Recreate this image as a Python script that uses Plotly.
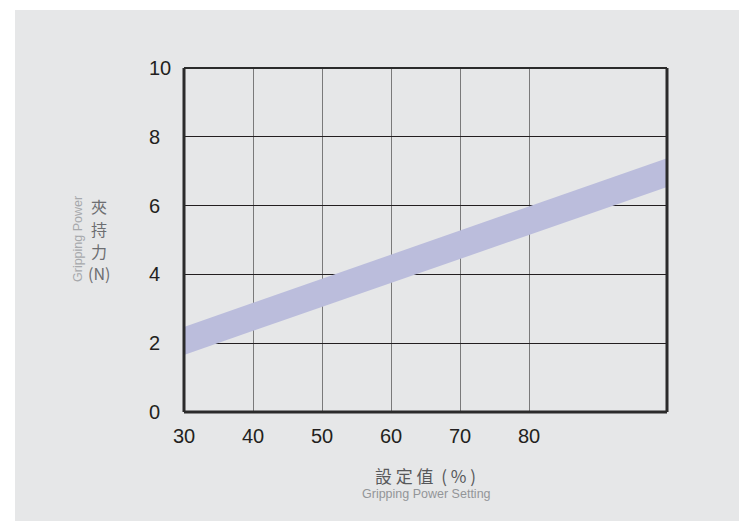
import plotly.graph_objects as go

# Data
band_x = [30, 100]
band_lower = [1.66, 6.54]
band_upper = [2.47, 7.38]
x_ticks = [30, 40, 50, 60, 70, 80]
y_ticks = [0, 2, 4, 6, 8, 10]

OFF = 8  # default body margin of the html page
W, H = 747 - OFF, 521 - OFF
L, R, T, B = 184 - OFF, 667 - OFF, 68 - OFF, 412 - OFF

def px(x):
    return (x - OFF - L) / (R - L)

def py(y):
    return (B - (y - OFF)) / (B - T)

BAND = "#bbbddc"
fig = go.Figure()
fig.add_trace(go.Scatter(x=band_x, y=band_lower, mode="lines",
                         line=dict(width=0, color=BAND), showlegend=False, hoverinfo="skip"))
fig.add_trace(go.Scatter(x=band_x, y=band_upper, mode="lines", fill="tonexty",
                         fillcolor=BAND,
                         line=dict(width=0, color=BAND), showlegend=False, hoverinfo="skip"))

fig.update_layout(
    width=W, height=H,
    margin=dict(l=L, r=W - R, t=T, b=H - B, pad=0),
    paper_bgcolor="white",
    plot_bgcolor="#e6e7e8",
    font=dict(family="Liberation Sans, Arial, sans-serif", color="#231f20"),
    showlegend=False,
    xaxis=dict(range=[30, 100], tickvals=x_ticks, ticktext=[str(v) for v in x_ticks],
               showgrid=True, gridcolor="#7a7a7a", gridwidth=1,
               zeroline=False, showline=False, ticks="",
               tickfont=dict(size=20, color="#231f20"), ticklabelstandoff=10),
    yaxis=dict(range=[0, 10], tickvals=y_ticks, showticklabels=False,
               showgrid=True, gridcolor="#231f20", gridwidth=1,
               zeroline=False, showline=False, ticks=""),
)

shapes = [
    dict(type="rect", xref="paper", yref="paper", x0=px(15), x1=px(760), y0=py(530), y1=py(10),
         fillcolor="#e6e7e8", line=dict(width=0), layer="below"),
    dict(type="line", xref="paper", yref="paper", x0=0, x1=0, y0=0, y1=1,
         line=dict(color="#2b2b2b", width=3), layer="above"),
    dict(type="line", xref="paper", yref="paper", x0=0, x1=1, y0=0, y1=0,
         line=dict(color="#2b2b2b", width=3), layer="above"),
    dict(type="line", xref="paper", yref="paper", x0=1, x1=1, y0=0, y1=1,
         line=dict(color="#2b2b2b", width=3), layer="above"),
    dict(type="line", xref="paper", yref="paper", x0=0, x1=1, y0=1, y1=1,
         line=dict(color="#2b2b2b", width=2), layer="above"),
]
fig.update_layout(shapes=shapes)

sans = "Liberation Sans, Arial, sans-serif"
cjk = "Noto Sans CJK TC, Liberation Sans, sans-serif"
annotations = []
# y tick labels, left-aligned as in the reference
for v in y_ticks:
    annotations.append(dict(text=str(v), x=px(147), y=v, xref="paper", yref="y",
                            showarrow=False, xanchor="left", yanchor="middle",
                            font=dict(family=sans, size=20, color="#231f20")))
for ch, yy in [("夾", 206), ("持", 229), ("力", 251), ("(N)", 273)]:
    annotations.append(dict(text=ch, x=px(99), y=py(yy), xref="paper", yref="paper",
                            showarrow=False, xanchor="center", yanchor="middle",
                            font=dict(family=cjk, size=16, color="#6d6e71")))
annotations += [
    dict(text="Gripping Power", x=px(77.5), y=py(239.5), xref="paper", yref="paper",
         showarrow=False, textangle=-90, xanchor="center", yanchor="middle",
         font=dict(family=sans, size=12.5, color="#a7a9ac")),
    dict(text="設 定 值  ( % )", x=px(425), y=py(475), xref="paper", yref="paper",
         showarrow=False, xanchor="center", yanchor="middle",
         font=dict(family=cjk, size=17, color="#58595b")),
    dict(text="Gripping Power Setting", x=px(426), y=py(494), xref="paper", yref="paper",
         showarrow=False, xanchor="center", yanchor="middle",
         font=dict(family=sans, size=12.5, color="#939598")),
]
fig.update_layout(annotations=annotations)

fig.write_html("out.html")
